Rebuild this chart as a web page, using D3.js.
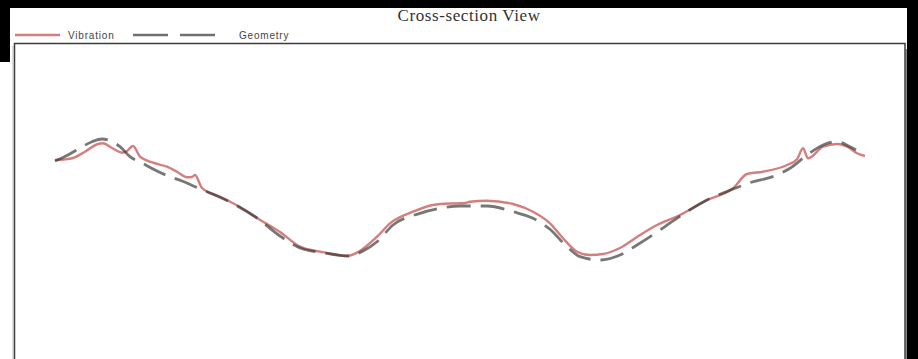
<!DOCTYPE html>
<html>
<head>
<meta charset="utf-8">
<script src="https://cdn.jsdelivr.net/npm/d3@7"></script>
<style>
  html, body { margin: 0; padding: 0; background: #fff; }
  svg { display: block; }
</style>
</head>
<body>
<svg id="chart" width="918" height="359"></svg>
<script>
// Station along the cross-section and surface height, vibration-derived profile
const vibStation = [41,50,59,71,84,89,98,108,112,119,126,139,153,163,173,178,181,188,206,226,243,266,286,306,321,333,343,363,376,399,419,436,446,451,456,473,499,519,536,549,563,576,589,606,626,643,666,693,719,733,749,773,783,789,794,809,823,836,843,851];
const vibHeight  = [204,204.5,206,212.3,220,220.7,216,211.3,212.3,218,207.3,201.3,197.3,192.3,186.7,187,189,176,167.3,157,146,132,117.3,112.3,109.5,108,111.3,127.3,140.7,152.3,159,160.5,160.7,161,162.3,163.3,160,152.3,140.7,125.7,112.3,109,110,116,129,139,149,164,175.7,190,192.3,199,204.7,215.7,205.7,217.3,220,215.7,210.7,208];

// Surveyed geometry profile
const geoStation = [41,52,66,78,88,96,106,116,128,141,154,168,181,193,216,243,266,286,309,336,349,363,379,406,426,446,473,499,519,536,553,566,586,606,623,646,658,693,721,734,763,776,793,809,823,836,842];
const geoHeight  = [203,208,216,222.3,225,223.3,217.3,207.3,201,194,188,183,177.3,172.3,162,146,128,116,111.3,108,113,122.3,139,150.7,155.7,158,158,152.3,145.7,134.7,117.3,107.3,104,109,119,134,142.3,164,175.7,180.7,189,195.7,209,219,222.3,217.3,214];

const seriesNames = ["Vibration", "Geometry"];
const title = "Cross-section View";

const W = 918, H = 359;
const frame = { left: 14.5, top: 43.5, right: 905, bottom: 420 };

const svg = d3.select("#chart");

// page background and dark margins
svg.append("rect").attr("width", W).attr("height", H).attr("fill", "#fff");
svg.append("rect").attr("x", 0).attr("y", 0).attr("width", W).attr("height", 8).attr("fill", "#000");
svg.append("rect").attr("x", 0).attr("y", 0).attr("width", 10).attr("height", 62).attr("fill", "#000");
svg.append("rect").attr("x", 907).attr("y", 0).attr("width", W - 907).attr("height", H).attr("fill", "#000");

// title
svg.append("text")
  .attr("x", 469).attr("y", 21)
  .attr("text-anchor", "middle")
  .attr("font-family", "'Liberation Serif', 'Times New Roman', serif")
  .attr("font-size", 17)
  .attr("letter-spacing", 0.6)
  .attr("fill", "#333")
  .text(title);

// legend
const legendY = 35;
const legendFont = "'Liberation Sans', Arial, sans-serif";
svg.append("line").attr("x1", 15).attr("x2", 60).attr("y1", legendY).attr("y2", legendY)
  .attr("stroke", "#d47e7e").attr("stroke-width", 2.5);
svg.append("text").attr("x", 68).attr("y", legendY + 3.5)
  .attr("font-family", legendFont).attr("font-size", 10).attr("letter-spacing", 0.8)
  .attr("fill", "#444").text(seriesNames[0]);
svg.append("line").attr("x1", 133).attr("x2", 215).attr("y1", legendY).attr("y2", legendY)
  .attr("stroke", "#707070").attr("stroke-width", 2.5).attr("stroke-dasharray", "35,12");
svg.append("text").attr("x", 239).attr("y", legendY + 3.5)
  .attr("font-family", legendFont).attr("font-size", 10).attr("letter-spacing", 0.8)
  .attr("fill", "#444").text(seriesNames[1]);

// plot frame with soft shadow
svg.append("rect").attr("x", 12).attr("y", 46).attr("width", 1.5).attr("height", H - 46).attr("fill", "#ddd");
svg.append("rect").attr("x", 905.5).attr("y", 49).attr("width", 1.5).attr("height", H - 49).attr("fill", "#888");
svg.append("rect")
  .attr("x", frame.left).attr("y", frame.top)
  .attr("width", frame.right - frame.left).attr("height", frame.bottom - frame.top)
  .attr("fill", "#fff").attr("stroke", "#3c3c3c").attr("stroke-width", 1.5);

// scales
const x = d3.scaleLinear().domain([0, 891]).range([14, 905]);
const y = d3.scaleLinear().domain([0, 320]).range([364, 44]);

const line = d3.line()
  .x(d => x(d[0]))
  .y(d => y(d[1]))
  .curve(d3.curveMonotoneX);

const vib = vibStation.map((s, i) => [s, vibHeight[i]]);
const geo = geoStation.map((s, i) => [s, geoHeight[i]]);

svg.append("path").datum(vib)
  .attr("d", line)
  .attr("fill", "none")
  .attr("stroke", "#d47e7e")
  .attr("stroke-width", 2.4)
  .attr("stroke-linejoin", "round");

svg.append("path").datum(geo)
  .attr("d", line)
  .attr("fill", "none")
  .attr("stroke", "rgba(55,55,55,0.68)")
  .attr("stroke-width", 2.8)
  .attr("stroke-dasharray", "24,10");
</script>
</body>
</html>
